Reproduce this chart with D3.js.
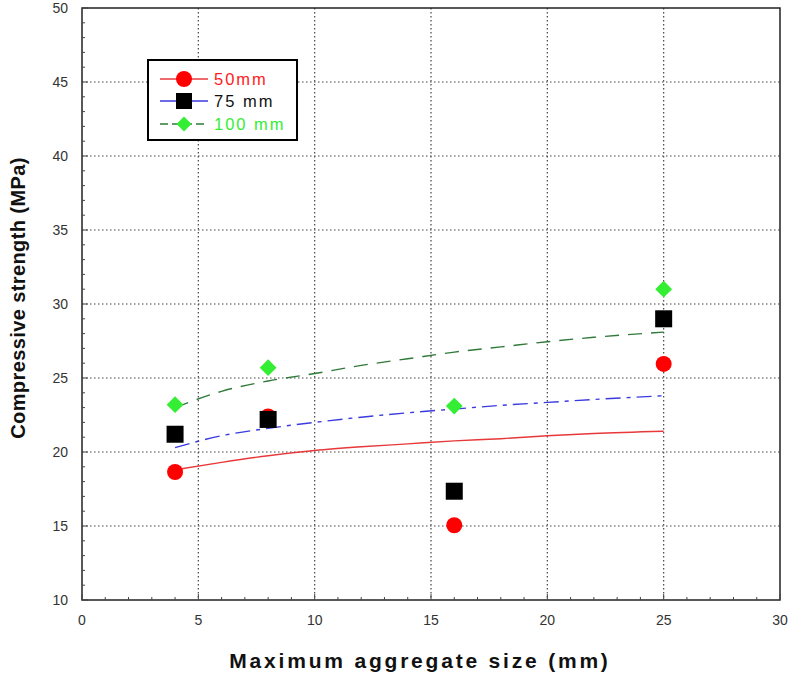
<!DOCTYPE html>
<html>
<head>
<meta charset="utf-8">
<script src="https://cdn.jsdelivr.net/npm/d3@7"></script>
<style>
  body { margin: 0; background: #fff; }
  svg text { font-family: Arial, "Liberation Sans", sans-serif; }
</style>
</head>
<body>
<div id="chart"></div>
<script>
// Compressive strength vs max aggregate size
const sizes = [4, 8, 16, 25];
const s50 = [18.65, 22.4, 15.05, 25.95];
const s75 = [21.2, 22.2, 17.35, 29.0];
const s100 = [23.2, 25.7, 23.1, 31.0];

// trend curves
const trendX = [4, 6, 8, 10, 12, 14, 16, 18, 20, 22, 25];
const trend50 = [18.8, 19.3, 19.75, 20.1, 20.35, 20.55, 20.75, 20.9, 21.1, 21.25, 21.4];
const trend75 = [20.3, 21.1, 21.6, 22.0, 22.35, 22.65, 22.9, 23.15, 23.35, 23.55, 23.8];
const trend100 = [23.0, 24.1, 24.8, 25.3, 25.85, 26.3, 26.75, 27.1, 27.45, 27.75, 28.1];

const xTicks = [0, 5, 10, 15, 20, 25, 30];
const yTicks = [10, 15, 20, 25, 30, 35, 40, 45, 50];

const W = 789, H = 675;
const plotL = 82, plotR = 780, plotT = 8, plotB = 600;

const svg = d3.select("#chart").append("svg")
    .attr("width", W)
    .attr("height", H);

const x = d3.scaleLinear().domain([0, 30]).range([plotL, plotR]);
const y = d3.scaleLinear().domain([10, 50]).range([plotB, plotT]);

// grid
svg.append("g")
    .selectAll("line")
    .data(xTicks.slice(1, -1))
    .enter().append("line")
    .attr("x1", d => x(d)).attr("x2", d => x(d))
    .attr("y1", plotT).attr("y2", plotB)
    .attr("stroke", "#444").attr("stroke-width", 1.2)
    .attr("stroke-dasharray", "1.5,2.5");

svg.append("g")
    .selectAll("line")
    .data(yTicks.slice(1, -1))
    .enter().append("line")
    .attr("x1", plotL).attr("x2", plotR)
    .attr("y1", d => y(d)).attr("y2", d => y(d))
    .attr("stroke", "#444").attr("stroke-width", 1.2)
    .attr("stroke-dasharray", "1.5,2.5");

// frame
svg.append("rect")
    .attr("x", plotL).attr("y", plotT)
    .attr("width", plotR - plotL).attr("height", plotB - plotT)
    .attr("fill", "none")
    .attr("stroke", "#222")
    .attr("stroke-width", 1.5);

// minor ticks inside
const minorY = d3.range(10, 51, 1);
const minorX = d3.range(0, 31, 1);
svg.append("g").selectAll("line").data(minorY).enter().append("line")
    .attr("x1", plotL).attr("x2", d => plotL + (d % 5 === 0 ? 6 : 3))
    .attr("y1", d => y(d)).attr("y2", d => y(d))
    .attr("stroke", "#444").attr("stroke-width", 1);
svg.append("g").selectAll("line").data(minorX).enter().append("line")
    .attr("x1", d => x(d)).attr("x2", d => x(d))
    .attr("y1", plotB).attr("y2", d => plotB - (d % 5 === 0 ? 6 : 3))
    .attr("stroke", "#444").attr("stroke-width", 1);

// tick labels
svg.append("g").selectAll("text").data(yTicks).enter().append("text")
    .attr("x", plotL - 14)
    .attr("y", d => y(d) + 5)
    .attr("text-anchor", "end")
    .attr("font-size", "14px")
    .attr("fill", "#333")
    .text(d => d);

svg.append("g").selectAll("text").data(xTicks).enter().append("text")
    .attr("x", d => x(d))
    .attr("y", plotB + 25)
    .attr("text-anchor", "middle")
    .attr("font-size", "14px")
    .attr("fill", "#333")
    .text(d => d);

// axis titles
svg.append("text")
    .attr("x", 420)
    .attr("y", 668)
    .attr("text-anchor", "middle")
    .attr("font-size", "21px")
    .attr("font-weight", "bold")
    .attr("letter-spacing", "2.8px")
    .attr("fill", "#111")
    .text("Maximum aggregate size (mm)");

svg.append("text")
    .attr("transform", "rotate(-90)")
    .attr("x", -298)
    .attr("y", 25)
    .attr("text-anchor", "middle")
    .attr("font-size", "20px")
    .attr("font-weight", "bold")
    .attr("letter-spacing", "0.4px")
    .attr("fill", "#111")
    .text("Compressive strength (MPa)");

// trend lines
const line = d3.line()
    .x(d => x(d[0]))
    .y(d => y(d[1]))
    .curve(d3.curveMonotoneX);

const series = [
    { trend: trend50, color: "#e8383a", dash: null },
    { trend: trend75, color: "#3a3ae0", dash: "15,6,4,6" },
    { trend: trend100, color: "#2f7a3a", dash: "14,9" }
];

series.forEach(s => {
    svg.append("path")
        .datum(trendX.map((v, i) => [v, s.trend[i]]))
        .attr("fill", "none")
        .attr("stroke", s.color)
        .attr("stroke-width", 1.4)
        .attr("stroke-dasharray", s.dash)
        .attr("d", line);
});

// markers
svg.append("g").selectAll("circle").data(sizes).enter().append("circle")
    .attr("cx", d => x(d))
    .attr("cy", (d, i) => y(s50[i]))
    .attr("r", 8)
    .attr("fill", "#ff0000");

svg.append("g").selectAll("rect").data(sizes).enter().append("rect")
    .attr("x", d => x(d) - 8.5)
    .attr("y", (d, i) => y(s75[i]) - 8.5)
    .attr("width", 17).attr("height", 17)
    .attr("fill", "#000");

const diamond = d3.symbol().type(d3.symbolDiamond2).size(180);
svg.append("g").selectAll("path").data(sizes).enter().append("path")
    .attr("transform", (d, i) => `translate(${x(d)},${y(s100[i])})`)
    .attr("d", diamond)
    .attr("fill", "#33ee33");

// legend
const lg = svg.append("g");
lg.append("rect")
    .attr("x", 148).attr("y", 60)
    .attr("width", 149).attr("height", 80)
    .attr("fill", "#fff")
    .attr("stroke", "#000")
    .attr("stroke-width", 2);

const legendItems = [
    { label: "50mm", color: "#e8383a", text: "#ff2020", dash: null, yy: 79 },
    { label: "75 mm", color: "#3a3ae0", text: "#111", dash: null, yy: 101 },
    { label: "100 mm", color: "#2f7a3a", text: "#33ee33", dash: "8,4", yy: 124 }
];
legendItems.forEach(d => {
    lg.append("line")
        .attr("x1", 160).attr("x2", 208)
        .attr("y1", d.yy).attr("y2", d.yy)
        .attr("stroke", d.color)
        .attr("stroke-width", 1.4)
        .attr("stroke-dasharray", d.dash);
    lg.append("text")
        .attr("x", 214)
        .attr("y", d.yy + 6)
        .attr("font-size", "16.5px")
        .attr("letter-spacing", "2px")
        .attr("fill", d.text)
        .text(d.label);
});
lg.append("circle").attr("cx", 184).attr("cy", 79).attr("r", 8).attr("fill", "#ff0000");
lg.append("rect").attr("x", 176).attr("y", 93).attr("width", 16).attr("height", 16).attr("fill", "#000");
lg.append("path").attr("transform", "translate(184,124)").attr("d", d3.symbol().type(d3.symbolDiamond2).size(140)).attr("fill", "#33ee33");
</script>
</body>
</html>
